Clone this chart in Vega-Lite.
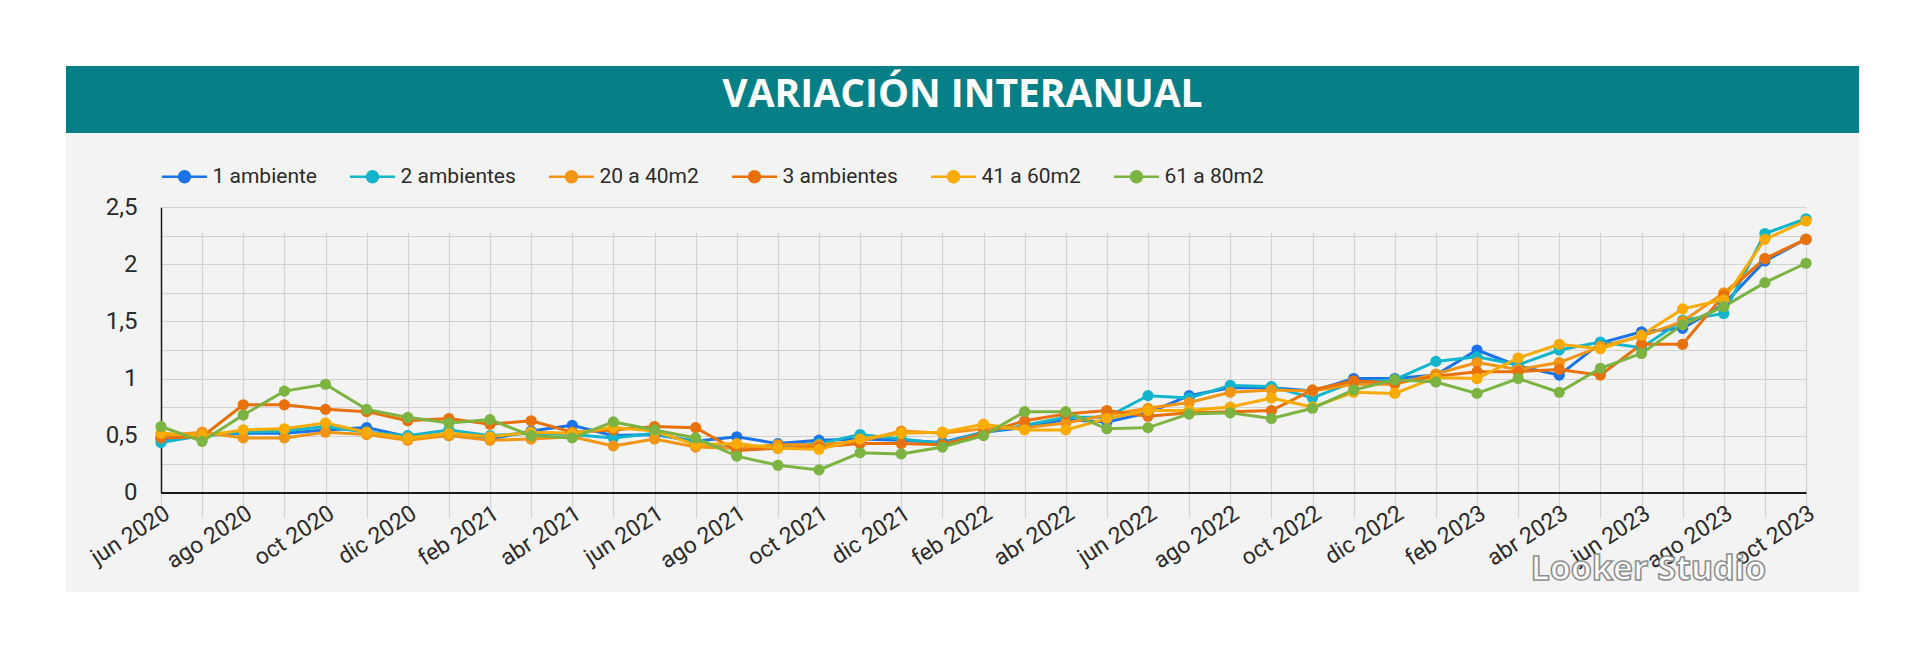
{
  "$schema": "https://vega.github.io/schema/vega-lite/v6.json",
  "background": "#ffffff",
  "padding": {"left": 66, "top": 66, "right": 61, "bottom": 70},
  "spacing": 0,
  "config": {
    "font": "Roboto",
    "view": {"stroke": null},
    "style": {"watermark": {"stroke": "#7a7a7a", "strokeWidth": 1.6, "strokeOpacity": 0.85}}
  },
  "vconcat": [
    {
      "width": 1793,
      "height": 67,
      "view": {"fill": "#067f87", "stroke": null},
      "data": {"values": [{"titulo": "VARIACIÓN INTERANUAL"}]},
      "mark": {"type": "text", "font": "Open Sans", "fontWeight": "bold", "fontSize": 39, "color": "#ffffff", "baseline": "alphabetic", "align": "center", "dy": 7},
      "encoding": {"text": {"field": "titulo", "type": "nominal"}}
    },
    {
      "width": 1793,
      "height": 459,
      "view": {"fill": "#f3f3f3", "stroke": null},
      "title": {"text": "Looker Studio", "orient": "bottom", "anchor": "end", "frame": "group", "baseline": "alphabetic", "offset": -12, "dx": -93, "color": "#ffffff", "fontSize": 34, "font": "Open Sans", "fontWeight": "bold", "style": "watermark"},
      "data": {"values": [
        {"mes": "jun 2020", "serie": "1 ambiente", "valor": 0.47},
        {"mes": "jul 2020", "serie": "1 ambiente", "valor": 0.50},
        {"mes": "ago 2020", "serie": "1 ambiente", "valor": 0.52},
        {"mes": "sep 2020", "serie": "1 ambiente", "valor": 0.52},
        {"mes": "oct 2020", "serie": "1 ambiente", "valor": 0.55},
        {"mes": "nov 2020", "serie": "1 ambiente", "valor": 0.57},
        {"mes": "dic 2020", "serie": "1 ambiente", "valor": 0.49},
        {"mes": "ene 2021", "serie": "1 ambiente", "valor": 0.50},
        {"mes": "feb 2021", "serie": "1 ambiente", "valor": 0.47},
        {"mes": "mar 2021", "serie": "1 ambiente", "valor": 0.54},
        {"mes": "abr 2021", "serie": "1 ambiente", "valor": 0.59},
        {"mes": "may 2021", "serie": "1 ambiente", "valor": 0.50},
        {"mes": "jun 2021", "serie": "1 ambiente", "valor": 0.51},
        {"mes": "jul 2021", "serie": "1 ambiente", "valor": 0.45},
        {"mes": "ago 2021", "serie": "1 ambiente", "valor": 0.49},
        {"mes": "sep 2021", "serie": "1 ambiente", "valor": 0.43},
        {"mes": "oct 2021", "serie": "1 ambiente", "valor": 0.46},
        {"mes": "nov 2021", "serie": "1 ambiente", "valor": 0.47},
        {"mes": "dic 2021", "serie": "1 ambiente", "valor": 0.46},
        {"mes": "ene 2022", "serie": "1 ambiente", "valor": 0.44},
        {"mes": "feb 2022", "serie": "1 ambiente", "valor": 0.53},
        {"mes": "mar 2022", "serie": "1 ambiente", "valor": 0.57},
        {"mes": "abr 2022", "serie": "1 ambiente", "valor": 0.64},
        {"mes": "may 2022", "serie": "1 ambiente", "valor": 0.62},
        {"mes": "jun 2022", "serie": "1 ambiente", "valor": 0.70},
        {"mes": "jul 2022", "serie": "1 ambiente", "valor": 0.85},
        {"mes": "ago 2022", "serie": "1 ambiente", "valor": 0.92},
        {"mes": "sep 2022", "serie": "1 ambiente", "valor": 0.92},
        {"mes": "oct 2022", "serie": "1 ambiente", "valor": 0.89},
        {"mes": "nov 2022", "serie": "1 ambiente", "valor": 1.00},
        {"mes": "dic 2022", "serie": "1 ambiente", "valor": 1.00},
        {"mes": "ene 2023", "serie": "1 ambiente", "valor": 1.03},
        {"mes": "feb 2023", "serie": "1 ambiente", "valor": 1.25},
        {"mes": "mar 2023", "serie": "1 ambiente", "valor": 1.11},
        {"mes": "abr 2023", "serie": "1 ambiente", "valor": 1.03},
        {"mes": "may 2023", "serie": "1 ambiente", "valor": 1.31},
        {"mes": "jun 2023", "serie": "1 ambiente", "valor": 1.41},
        {"mes": "jul 2023", "serie": "1 ambiente", "valor": 1.44},
        {"mes": "ago 2023", "serie": "1 ambiente", "valor": 1.65},
        {"mes": "sep 2023", "serie": "1 ambiente", "valor": 2.03},
        {"mes": "oct 2023", "serie": "1 ambiente", "valor": 2.22},

        {"mes": "jun 2020", "serie": "2 ambientes", "valor": 0.44},
        {"mes": "jul 2020", "serie": "2 ambientes", "valor": 0.50},
        {"mes": "ago 2020", "serie": "2 ambientes", "valor": 0.53},
        {"mes": "sep 2020", "serie": "2 ambientes", "valor": 0.54},
        {"mes": "oct 2020", "serie": "2 ambientes", "valor": 0.58},
        {"mes": "nov 2020", "serie": "2 ambientes", "valor": 0.53},
        {"mes": "dic 2020", "serie": "2 ambientes", "valor": 0.50},
        {"mes": "ene 2021", "serie": "2 ambientes", "valor": 0.55},
        {"mes": "feb 2021", "serie": "2 ambientes", "valor": 0.50},
        {"mes": "mar 2021", "serie": "2 ambientes", "valor": 0.52},
        {"mes": "abr 2021", "serie": "2 ambientes", "valor": 0.51},
        {"mes": "may 2021", "serie": "2 ambientes", "valor": 0.48},
        {"mes": "jun 2021", "serie": "2 ambientes", "valor": 0.52},
        {"mes": "jul 2021", "serie": "2 ambientes", "valor": 0.44},
        {"mes": "ago 2021", "serie": "2 ambientes", "valor": 0.38},
        {"mes": "sep 2021", "serie": "2 ambientes", "valor": 0.41},
        {"mes": "oct 2021", "serie": "2 ambientes", "valor": 0.43},
        {"mes": "nov 2021", "serie": "2 ambientes", "valor": 0.51},
        {"mes": "dic 2021", "serie": "2 ambientes", "valor": 0.47},
        {"mes": "ene 2022", "serie": "2 ambientes", "valor": 0.43},
        {"mes": "feb 2022", "serie": "2 ambientes", "valor": 0.53},
        {"mes": "mar 2022", "serie": "2 ambientes", "valor": 0.59},
        {"mes": "abr 2022", "serie": "2 ambientes", "valor": 0.66},
        {"mes": "may 2022", "serie": "2 ambientes", "valor": 0.66},
        {"mes": "jun 2022", "serie": "2 ambientes", "valor": 0.85},
        {"mes": "jul 2022", "serie": "2 ambientes", "valor": 0.83},
        {"mes": "ago 2022", "serie": "2 ambientes", "valor": 0.94},
        {"mes": "sep 2022", "serie": "2 ambientes", "valor": 0.93},
        {"mes": "oct 2022", "serie": "2 ambientes", "valor": 0.83},
        {"mes": "nov 2022", "serie": "2 ambientes", "valor": 0.97},
        {"mes": "dic 2022", "serie": "2 ambientes", "valor": 0.99},
        {"mes": "ene 2023", "serie": "2 ambientes", "valor": 1.15},
        {"mes": "feb 2023", "serie": "2 ambientes", "valor": 1.19},
        {"mes": "mar 2023", "serie": "2 ambientes", "valor": 1.12},
        {"mes": "abr 2023", "serie": "2 ambientes", "valor": 1.25},
        {"mes": "may 2023", "serie": "2 ambientes", "valor": 1.32},
        {"mes": "jun 2023", "serie": "2 ambientes", "valor": 1.27},
        {"mes": "jul 2023", "serie": "2 ambientes", "valor": 1.51},
        {"mes": "ago 2023", "serie": "2 ambientes", "valor": 1.57},
        {"mes": "sep 2023", "serie": "2 ambientes", "valor": 2.27},
        {"mes": "oct 2023", "serie": "2 ambientes", "valor": 2.40},

        {"mes": "jun 2020", "serie": "20 a 40m2", "valor": 0.50},
        {"mes": "jul 2020", "serie": "20 a 40m2", "valor": 0.53},
        {"mes": "ago 2020", "serie": "20 a 40m2", "valor": 0.48},
        {"mes": "sep 2020", "serie": "20 a 40m2", "valor": 0.48},
        {"mes": "oct 2020", "serie": "20 a 40m2", "valor": 0.53},
        {"mes": "nov 2020", "serie": "20 a 40m2", "valor": 0.51},
        {"mes": "dic 2020", "serie": "20 a 40m2", "valor": 0.46},
        {"mes": "ene 2021", "serie": "20 a 40m2", "valor": 0.50},
        {"mes": "feb 2021", "serie": "20 a 40m2", "valor": 0.46},
        {"mes": "mar 2021", "serie": "20 a 40m2", "valor": 0.47},
        {"mes": "abr 2021", "serie": "20 a 40m2", "valor": 0.49},
        {"mes": "may 2021", "serie": "20 a 40m2", "valor": 0.41},
        {"mes": "jun 2021", "serie": "20 a 40m2", "valor": 0.47},
        {"mes": "jul 2021", "serie": "20 a 40m2", "valor": 0.40},
        {"mes": "ago 2021", "serie": "20 a 40m2", "valor": 0.39},
        {"mes": "sep 2021", "serie": "20 a 40m2", "valor": 0.42},
        {"mes": "oct 2021", "serie": "20 a 40m2", "valor": 0.42},
        {"mes": "nov 2021", "serie": "20 a 40m2", "valor": 0.45},
        {"mes": "dic 2021", "serie": "20 a 40m2", "valor": 0.54},
        {"mes": "ene 2022", "serie": "20 a 40m2", "valor": 0.52},
        {"mes": "feb 2022", "serie": "20 a 40m2", "valor": 0.56},
        {"mes": "mar 2022", "serie": "20 a 40m2", "valor": 0.57},
        {"mes": "abr 2022", "serie": "20 a 40m2", "valor": 0.61},
        {"mes": "may 2022", "serie": "20 a 40m2", "valor": 0.68},
        {"mes": "jun 2022", "serie": "20 a 40m2", "valor": 0.74},
        {"mes": "jul 2022", "serie": "20 a 40m2", "valor": 0.79},
        {"mes": "ago 2022", "serie": "20 a 40m2", "valor": 0.88},
        {"mes": "sep 2022", "serie": "20 a 40m2", "valor": 0.90},
        {"mes": "oct 2022", "serie": "20 a 40m2", "valor": 0.89},
        {"mes": "nov 2022", "serie": "20 a 40m2", "valor": 0.95},
        {"mes": "dic 2022", "serie": "20 a 40m2", "valor": 0.95},
        {"mes": "ene 2023", "serie": "20 a 40m2", "valor": 1.04},
        {"mes": "feb 2023", "serie": "20 a 40m2", "valor": 1.14},
        {"mes": "mar 2023", "serie": "20 a 40m2", "valor": 1.08},
        {"mes": "abr 2023", "serie": "20 a 40m2", "valor": 1.14},
        {"mes": "may 2023", "serie": "20 a 40m2", "valor": 1.28},
        {"mes": "jun 2023", "serie": "20 a 40m2", "valor": 1.37},
        {"mes": "jul 2023", "serie": "20 a 40m2", "valor": 1.50},
        {"mes": "ago 2023", "serie": "20 a 40m2", "valor": 1.75},
        {"mes": "sep 2023", "serie": "20 a 40m2", "valor": 2.05},
        {"mes": "oct 2023", "serie": "20 a 40m2", "valor": 2.22},

        {"mes": "jun 2020", "serie": "3 ambientes", "valor": 0.48},
        {"mes": "jul 2020", "serie": "3 ambientes", "valor": 0.49},
        {"mes": "ago 2020", "serie": "3 ambientes", "valor": 0.77},
        {"mes": "sep 2020", "serie": "3 ambientes", "valor": 0.77},
        {"mes": "oct 2020", "serie": "3 ambientes", "valor": 0.73},
        {"mes": "nov 2020", "serie": "3 ambientes", "valor": 0.71},
        {"mes": "dic 2020", "serie": "3 ambientes", "valor": 0.63},
        {"mes": "ene 2021", "serie": "3 ambientes", "valor": 0.65},
        {"mes": "feb 2021", "serie": "3 ambientes", "valor": 0.60},
        {"mes": "mar 2021", "serie": "3 ambientes", "valor": 0.63},
        {"mes": "abr 2021", "serie": "3 ambientes", "valor": 0.53},
        {"mes": "may 2021", "serie": "3 ambientes", "valor": 0.55},
        {"mes": "jun 2021", "serie": "3 ambientes", "valor": 0.58},
        {"mes": "jul 2021", "serie": "3 ambientes", "valor": 0.57},
        {"mes": "ago 2021", "serie": "3 ambientes", "valor": 0.37},
        {"mes": "sep 2021", "serie": "3 ambientes", "valor": 0.39},
        {"mes": "oct 2021", "serie": "3 ambientes", "valor": 0.40},
        {"mes": "nov 2021", "serie": "3 ambientes", "valor": 0.43},
        {"mes": "dic 2021", "serie": "3 ambientes", "valor": 0.43},
        {"mes": "ene 2022", "serie": "3 ambientes", "valor": 0.42},
        {"mes": "feb 2022", "serie": "3 ambientes", "valor": 0.52},
        {"mes": "mar 2022", "serie": "3 ambientes", "valor": 0.63},
        {"mes": "abr 2022", "serie": "3 ambientes", "valor": 0.69},
        {"mes": "may 2022", "serie": "3 ambientes", "valor": 0.72},
        {"mes": "jun 2022", "serie": "3 ambientes", "valor": 0.67},
        {"mes": "jul 2022", "serie": "3 ambientes", "valor": 0.70},
        {"mes": "ago 2022", "serie": "3 ambientes", "valor": 0.71},
        {"mes": "sep 2022", "serie": "3 ambientes", "valor": 0.72},
        {"mes": "oct 2022", "serie": "3 ambientes", "valor": 0.90},
        {"mes": "nov 2022", "serie": "3 ambientes", "valor": 0.98},
        {"mes": "dic 2022", "serie": "3 ambientes", "valor": 0.96},
        {"mes": "ene 2023", "serie": "3 ambientes", "valor": 1.02},
        {"mes": "feb 2023", "serie": "3 ambientes", "valor": 1.06},
        {"mes": "mar 2023", "serie": "3 ambientes", "valor": 1.06},
        {"mes": "abr 2023", "serie": "3 ambientes", "valor": 1.08},
        {"mes": "may 2023", "serie": "3 ambientes", "valor": 1.03},
        {"mes": "jun 2023", "serie": "3 ambientes", "valor": 1.30},
        {"mes": "jul 2023", "serie": "3 ambientes", "valor": 1.30},
        {"mes": "ago 2023", "serie": "3 ambientes", "valor": 1.73},
        {"mes": "sep 2023", "serie": "3 ambientes", "valor": 2.05},
        {"mes": "oct 2023", "serie": "3 ambientes", "valor": 2.22},

        {"mes": "jun 2020", "serie": "41 a 60m2", "valor": 0.52},
        {"mes": "jul 2020", "serie": "41 a 60m2", "valor": 0.50},
        {"mes": "ago 2020", "serie": "41 a 60m2", "valor": 0.55},
        {"mes": "sep 2020", "serie": "41 a 60m2", "valor": 0.56},
        {"mes": "oct 2020", "serie": "41 a 60m2", "valor": 0.61},
        {"mes": "nov 2020", "serie": "41 a 60m2", "valor": 0.53},
        {"mes": "dic 2020", "serie": "41 a 60m2", "valor": 0.48},
        {"mes": "ene 2021", "serie": "41 a 60m2", "valor": 0.52},
        {"mes": "feb 2021", "serie": "41 a 60m2", "valor": 0.49},
        {"mes": "mar 2021", "serie": "41 a 60m2", "valor": 0.53},
        {"mes": "abr 2021", "serie": "41 a 60m2", "valor": 0.52},
        {"mes": "may 2021", "serie": "41 a 60m2", "valor": 0.57},
        {"mes": "jun 2021", "serie": "41 a 60m2", "valor": 0.54},
        {"mes": "jul 2021", "serie": "41 a 60m2", "valor": 0.42},
        {"mes": "ago 2021", "serie": "41 a 60m2", "valor": 0.43},
        {"mes": "sep 2021", "serie": "41 a 60m2", "valor": 0.39},
        {"mes": "oct 2021", "serie": "41 a 60m2", "valor": 0.38},
        {"mes": "nov 2021", "serie": "41 a 60m2", "valor": 0.47},
        {"mes": "dic 2021", "serie": "41 a 60m2", "valor": 0.52},
        {"mes": "ene 2022", "serie": "41 a 60m2", "valor": 0.53},
        {"mes": "feb 2022", "serie": "41 a 60m2", "valor": 0.60},
        {"mes": "mar 2022", "serie": "41 a 60m2", "valor": 0.55},
        {"mes": "abr 2022", "serie": "41 a 60m2", "valor": 0.55},
        {"mes": "may 2022", "serie": "41 a 60m2", "valor": 0.65},
        {"mes": "jun 2022", "serie": "41 a 60m2", "valor": 0.72},
        {"mes": "jul 2022", "serie": "41 a 60m2", "valor": 0.72},
        {"mes": "ago 2022", "serie": "41 a 60m2", "valor": 0.75},
        {"mes": "sep 2022", "serie": "41 a 60m2", "valor": 0.83},
        {"mes": "oct 2022", "serie": "41 a 60m2", "valor": 0.75},
        {"mes": "nov 2022", "serie": "41 a 60m2", "valor": 0.88},
        {"mes": "dic 2022", "serie": "41 a 60m2", "valor": 0.87},
        {"mes": "ene 2023", "serie": "41 a 60m2", "valor": 1.01},
        {"mes": "feb 2023", "serie": "41 a 60m2", "valor": 1.00},
        {"mes": "mar 2023", "serie": "41 a 60m2", "valor": 1.18},
        {"mes": "abr 2023", "serie": "41 a 60m2", "valor": 1.30},
        {"mes": "may 2023", "serie": "41 a 60m2", "valor": 1.26},
        {"mes": "jun 2023", "serie": "41 a 60m2", "valor": 1.38},
        {"mes": "jul 2023", "serie": "41 a 60m2", "valor": 1.61},
        {"mes": "ago 2023", "serie": "41 a 60m2", "valor": 1.69},
        {"mes": "sep 2023", "serie": "41 a 60m2", "valor": 2.22},
        {"mes": "oct 2023", "serie": "41 a 60m2", "valor": 2.38},

        {"mes": "jun 2020", "serie": "61 a 80m2", "valor": 0.58},
        {"mes": "jul 2020", "serie": "61 a 80m2", "valor": 0.45},
        {"mes": "ago 2020", "serie": "61 a 80m2", "valor": 0.68},
        {"mes": "sep 2020", "serie": "61 a 80m2", "valor": 0.89},
        {"mes": "oct 2020", "serie": "61 a 80m2", "valor": 0.95},
        {"mes": "nov 2020", "serie": "61 a 80m2", "valor": 0.73},
        {"mes": "dic 2020", "serie": "61 a 80m2", "valor": 0.66},
        {"mes": "ene 2021", "serie": "61 a 80m2", "valor": 0.61},
        {"mes": "feb 2021", "serie": "61 a 80m2", "valor": 0.64},
        {"mes": "mar 2021", "serie": "61 a 80m2", "valor": 0.50},
        {"mes": "abr 2021", "serie": "61 a 80m2", "valor": 0.48},
        {"mes": "may 2021", "serie": "61 a 80m2", "valor": 0.62},
        {"mes": "jun 2021", "serie": "61 a 80m2", "valor": 0.55},
        {"mes": "jul 2021", "serie": "61 a 80m2", "valor": 0.48},
        {"mes": "ago 2021", "serie": "61 a 80m2", "valor": 0.32},
        {"mes": "sep 2021", "serie": "61 a 80m2", "valor": 0.24},
        {"mes": "oct 2021", "serie": "61 a 80m2", "valor": 0.20},
        {"mes": "nov 2021", "serie": "61 a 80m2", "valor": 0.35},
        {"mes": "dic 2021", "serie": "61 a 80m2", "valor": 0.34},
        {"mes": "ene 2022", "serie": "61 a 80m2", "valor": 0.40},
        {"mes": "feb 2022", "serie": "61 a 80m2", "valor": 0.50},
        {"mes": "mar 2022", "serie": "61 a 80m2", "valor": 0.71},
        {"mes": "abr 2022", "serie": "61 a 80m2", "valor": 0.71},
        {"mes": "may 2022", "serie": "61 a 80m2", "valor": 0.56},
        {"mes": "jun 2022", "serie": "61 a 80m2", "valor": 0.57},
        {"mes": "jul 2022", "serie": "61 a 80m2", "valor": 0.69},
        {"mes": "ago 2022", "serie": "61 a 80m2", "valor": 0.70},
        {"mes": "sep 2022", "serie": "61 a 80m2", "valor": 0.65},
        {"mes": "oct 2022", "serie": "61 a 80m2", "valor": 0.74},
        {"mes": "nov 2022", "serie": "61 a 80m2", "valor": 0.90},
        {"mes": "dic 2022", "serie": "61 a 80m2", "valor": 0.99},
        {"mes": "ene 2023", "serie": "61 a 80m2", "valor": 0.97},
        {"mes": "feb 2023", "serie": "61 a 80m2", "valor": 0.87},
        {"mes": "mar 2023", "serie": "61 a 80m2", "valor": 1.00},
        {"mes": "abr 2023", "serie": "61 a 80m2", "valor": 0.88},
        {"mes": "may 2023", "serie": "61 a 80m2", "valor": 1.09},
        {"mes": "jun 2023", "serie": "61 a 80m2", "valor": 1.22},
        {"mes": "jul 2023", "serie": "61 a 80m2", "valor": 1.47},
        {"mes": "ago 2023", "serie": "61 a 80m2", "valor": 1.63},
        {"mes": "sep 2023", "serie": "61 a 80m2", "valor": 1.84},
        {"mes": "oct 2023", "serie": "61 a 80m2", "valor": 2.01}
      ]},
      "encoding": {
        "x": {
          "field": "mes", "type": "ordinal", "sort": null,
          "scale": {"type": "point", "padding": 0, "range": [95, 1740]},
          "axis": {
            "title": null, "grid": true, "gridColor": "#d2d2d2", "gridWidth": 1.2,
            "ticks": false, "tickSize": 0,
            "domainColor": "#1a1a1a", "domainWidth": 2,
            "offset": -99.5,
            "labelAngle": -33, "labelAlign": "right", "labelBaseline": "top", "labelPadding": 9,
            "labelFont": "Roboto", "labelFontSize": 23, "labelColor": "#2b2b2b", "labelOverlap": false,
            "labelExpr": "indexof(['jun','ago','oct','dic','feb','abr'], split(datum.label, ' ')[0]) >= 0 ? datum.label : ''"
          }
        },
        "y": {
          "field": "valor", "type": "quantitative",
          "scale": {"domain": [0, 2.5], "range": [359.7, 74.3], "nice": false},
          "axis": {
            "title": null, "values": [0, 0.25, 0.5, 0.75, 1, 1.25, 1.5, 1.75, 2, 2.25, 2.5],
            "grid": true, "gridColor": "#d2d2d2", "gridWidth": 1.2,
            "ticks": false, "tickSize": 0,
            "domainColor": "#1a1a1a", "domainWidth": 1.5,
            "offset": -95,
            "labelPadding": 24, "labelFont": "Roboto", "labelFontSize": 24, "labelColor": "#2b2b2b",
            "labelExpr": "datum.value * 2 == round(datum.value * 2) ? replace(format(datum.value, '~g'), '.', ',') : ''"
          }
        },
        "color": {
          "field": "serie", "type": "nominal",
          "scale": {
            "domain": ["1 ambiente", "2 ambientes", "20 a 40m2", "3 ambientes", "41 a 60m2", "61 a 80m2"],
            "range": ["#1a73e8", "#12b5cb", "#f39514", "#e8710a", "#f9ab00", "#7cb342"]
          },
          "legend": {
            "orient": "none", "legendX": 94.5, "legendY": 86.5,
            "direction": "horizontal", "columns": 6, "title": null, "padding": 0,
            "columnPadding": 27,
            "symbolType": "M-1,0L1,0M0.244,0A0.244,0.244,0,1,1,-0.244,0A0.244,0.244,0,1,1,0.244,0Z",
            "symbolSize": 2025, "symbolStrokeWidth": 2.5,
            "labelFont": "Roboto", "labelFontSize": 21, "labelColor": "#2b2b2b", "labelOffset": 4, "labelLimit": 300,
            "encode": {"symbols": {"update": {"fill": {"scale": "color", "field": "value"}, "stroke": {"scale": "color", "field": "value"}}}}
          }
        }
      },
      "layer": [
        {"mark": {"type": "line", "strokeWidth": 3}, "encoding": {"order": {"value": null}}},
        {"mark": {"type": "point", "filled": true, "size": 125, "opacity": 1}}
      ]
    }
  ]
}
